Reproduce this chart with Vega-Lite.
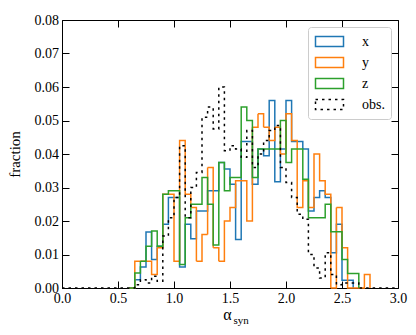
{
  "$schema": "https://vega.github.io/schema/vega-lite/v6.json",
  "width": 336,
  "height": 268,
  "autosize": {"type": "none"},
  "padding": {"left": 62, "top": 20, "right": 18, "bottom": 47},
  "config": {
    "font": "Liberation Serif",
    "view": {"stroke": "black", "strokeWidth": 1},
    "axis": {"domain": false, "grid": false, "labelFlush": false, "labelOverlap": false, "tickColor": "black", "tickSize": -7, "tickWidth": 1, "labelPadding": 10.5, "labelFont": "Liberation Serif", "labelFontSize": 14, "labelColor": "black", "titleFont": "Liberation Serif", "titleFontWeight": "normal", "titleColor": "black"},
    "legend": {"orient": "top-right", "offset": 7, "strokeColor": "#cccccc", "fillColor": "rgba(255,255,255,0.8)", "cornerRadius": 3, "padding": 6, "labelFont": "Liberation Serif", "labelFontSize": 14, "labelColor": "black", "symbolType": "M-1.867,-0.667H1.867V0.667H-1.867Z", "symbolSize": 225, "symbolOffset": 7, "symbolFillColor": "transparent", "rowPadding": 4, "labelOffset": 24}
  },
  "datasets": {
    "hist": [
      {"series":"x","alpha":0.60,"fraction":0},
      {"series":"x","alpha":0.65,"fraction":0.0025},
      {"series":"x","alpha":0.70,"fraction":0.0063},
      {"series":"x","alpha":0.75,"fraction":0.0167},
      {"series":"x","alpha":0.80,"fraction":0.0085},
      {"series":"x","alpha":0.85,"fraction":0.0125},
      {"series":"x","alpha":0.90,"fraction":0.019},
      {"series":"x","alpha":0.95,"fraction":0.027},
      {"series":"x","alpha":1.00,"fraction":0.027},
      {"series":"x","alpha":1.05,"fraction":0.0063},
      {"series":"x","alpha":1.10,"fraction":0.019},
      {"series":"x","alpha":1.15,"fraction":0.0147},
      {"series":"x","alpha":1.20,"fraction":0.023},
      {"series":"x","alpha":1.25,"fraction":0.023},
      {"series":"x","alpha":1.30,"fraction":0.029},
      {"series":"x","alpha":1.35,"fraction":0.029},
      {"series":"x","alpha":1.40,"fraction":0.0375},
      {"series":"x","alpha":1.45,"fraction":0.0355},
      {"series":"x","alpha":1.50,"fraction":0.031},
      {"series":"x","alpha":1.55,"fraction":0.0145},
      {"series":"x","alpha":1.60,"fraction":0.0437},
      {"series":"x","alpha":1.65,"fraction":0.0437},
      {"series":"x","alpha":1.70,"fraction":0.031},
      {"series":"x","alpha":1.75,"fraction":0.0415},
      {"series":"x","alpha":1.80,"fraction":0.0395},
      {"series":"x","alpha":1.85,"fraction":0.056},
      {"series":"x","alpha":1.90,"fraction":0.0317},
      {"series":"x","alpha":1.95,"fraction":0.0415},
      {"series":"x","alpha":2.00,"fraction":0.056},
      {"series":"x","alpha":2.05,"fraction":0.0437},
      {"series":"x","alpha":2.10,"fraction":0.0437},
      {"series":"x","alpha":2.15,"fraction":0.0415},
      {"series":"x","alpha":2.20,"fraction":0.023},
      {"series":"x","alpha":2.25,"fraction":0.027},
      {"series":"x","alpha":2.30,"fraction":0.029},
      {"series":"x","alpha":2.35,"fraction":0.027},
      {"series":"x","alpha":2.40,"fraction":0.0105},
      {"series":"x","alpha":2.45,"fraction":0.019},
      {"series":"x","alpha":2.50,"fraction":0.0023},
      {"series":"x","alpha":2.55,"fraction":0.0023},
      {"series":"x","alpha":2.60,"fraction":0},
      {"series":"y","alpha":0.60,"fraction":0},
      {"series":"y","alpha":0.65,"fraction":0.008},
      {"series":"y","alpha":0.70,"fraction":0.008},
      {"series":"y","alpha":0.75,"fraction":0.008},
      {"series":"y","alpha":0.80,"fraction":0.004},
      {"series":"y","alpha":0.85,"fraction":0.012},
      {"series":"y","alpha":0.90,"fraction":0.028},
      {"series":"y","alpha":0.95,"fraction":0.028},
      {"series":"y","alpha":1.00,"fraction":0.008},
      {"series":"y","alpha":1.05,"fraction":0.044},
      {"series":"y","alpha":1.10,"fraction":0.028},
      {"series":"y","alpha":1.15,"fraction":0.024},
      {"series":"y","alpha":1.20,"fraction":0.008},
      {"series":"y","alpha":1.25,"fraction":0.016},
      {"series":"y","alpha":1.30,"fraction":0.036},
      {"series":"y","alpha":1.35,"fraction":0.012},
      {"series":"y","alpha":1.40,"fraction":0.008},
      {"series":"y","alpha":1.45,"fraction":0.020},
      {"series":"y","alpha":1.50,"fraction":0.024},
      {"series":"y","alpha":1.55,"fraction":0.032},
      {"series":"y","alpha":1.60,"fraction":0.032},
      {"series":"y","alpha":1.65,"fraction":0.020},
      {"series":"y","alpha":1.70,"fraction":0.048},
      {"series":"y","alpha":1.75,"fraction":0.052},
      {"series":"y","alpha":1.80,"fraction":0.048},
      {"series":"y","alpha":1.85,"fraction":0.044},
      {"series":"y","alpha":1.90,"fraction":0.048},
      {"series":"y","alpha":1.95,"fraction":0.040},
      {"series":"y","alpha":2.00,"fraction":0.052},
      {"series":"y","alpha":2.05,"fraction":0.044},
      {"series":"y","alpha":2.10,"fraction":0.024},
      {"series":"y","alpha":2.15,"fraction":0.032},
      {"series":"y","alpha":2.20,"fraction":0.024},
      {"series":"y","alpha":2.25,"fraction":0.040},
      {"series":"y","alpha":2.30,"fraction":0.032},
      {"series":"y","alpha":2.35,"fraction":0.028},
      {"series":"y","alpha":2.40,"fraction":0},
      {"series":"y","alpha":2.45,"fraction":0.024},
      {"series":"y","alpha":2.50,"fraction":0.012},
      {"series":"y","alpha":2.55,"fraction":0},
      {"series":"y","alpha":2.60,"fraction":0},
      {"series":"y","alpha":2.65,"fraction":0},
      {"series":"y","alpha":2.70,"fraction":0.004},
      {"series":"y","alpha":2.75,"fraction":0},
      {"series":"z","alpha":0.60,"fraction":0},
      {"series":"z","alpha":0.65,"fraction":0.0045},
      {"series":"z","alpha":0.70,"fraction":0.008},
      {"series":"z","alpha":0.75,"fraction":0.0125},
      {"series":"z","alpha":0.80,"fraction":0.017},
      {"series":"z","alpha":0.85,"fraction":0.0125},
      {"series":"z","alpha":0.90,"fraction":0.028},
      {"series":"z","alpha":0.95,"fraction":0.029},
      {"series":"z","alpha":1.00,"fraction":0.029},
      {"series":"z","alpha":1.05,"fraction":0.007},
      {"series":"z","alpha":1.10,"fraction":0.021},
      {"series":"z","alpha":1.15,"fraction":0.025},
      {"series":"z","alpha":1.20,"fraction":0.025},
      {"series":"z","alpha":1.25,"fraction":0.033},
      {"series":"z","alpha":1.30,"fraction":0.025},
      {"series":"z","alpha":1.35,"fraction":0.0128},
      {"series":"z","alpha":1.40,"fraction":0.0375},
      {"series":"z","alpha":1.45,"fraction":0.029},
      {"series":"z","alpha":1.50,"fraction":0.033},
      {"series":"z","alpha":1.55,"fraction":0.033},
      {"series":"z","alpha":1.60,"fraction":0.054},
      {"series":"z","alpha":1.65,"fraction":0.050},
      {"series":"z","alpha":1.70,"fraction":0.033},
      {"series":"z","alpha":1.75,"fraction":0.0415},
      {"series":"z","alpha":1.80,"fraction":0.0415},
      {"series":"z","alpha":1.85,"fraction":0.0415},
      {"series":"z","alpha":1.90,"fraction":0.0415},
      {"series":"z","alpha":1.95,"fraction":0.050},
      {"series":"z","alpha":2.00,"fraction":0.0375},
      {"series":"z","alpha":2.05,"fraction":0.0415},
      {"series":"z","alpha":2.10,"fraction":0.0415},
      {"series":"z","alpha":2.15,"fraction":0.0325},
      {"series":"z","alpha":2.20,"fraction":0.021},
      {"series":"z","alpha":2.25,"fraction":0.021},
      {"series":"z","alpha":2.30,"fraction":0.021},
      {"series":"z","alpha":2.35,"fraction":0.025},
      {"series":"z","alpha":2.40,"fraction":0.0168},
      {"series":"z","alpha":2.45,"fraction":0.0168},
      {"series":"z","alpha":2.50,"fraction":0.0085},
      {"series":"z","alpha":2.55,"fraction":0.0043},
      {"series":"z","alpha":2.60,"fraction":0.0043},
      {"series":"z","alpha":2.65,"fraction":0},
      {"series":"obs.","alpha":0.00,"fraction":0},
      {"series":"obs.","alpha":0.65,"fraction":0.001},
      {"series":"obs.","alpha":0.70,"fraction":0.0025},
      {"series":"obs.","alpha":0.75,"fraction":0.0015},
      {"series":"obs.","alpha":0.80,"fraction":0.0035},
      {"series":"obs.","alpha":0.85,"fraction":0.002},
      {"series":"obs.","alpha":0.90,"fraction":0.0155},
      {"series":"obs.","alpha":0.95,"fraction":0.021},
      {"series":"obs.","alpha":1.00,"fraction":0.027},
      {"series":"obs.","alpha":1.05,"fraction":0.0425},
      {"series":"obs.","alpha":1.10,"fraction":0.021},
      {"series":"obs.","alpha":1.15,"fraction":0.030},
      {"series":"obs.","alpha":1.20,"fraction":0.0345},
      {"series":"obs.","alpha":1.25,"fraction":0.051},
      {"series":"obs.","alpha":1.30,"fraction":0.054},
      {"series":"obs.","alpha":1.35,"fraction":0.0475},
      {"series":"obs.","alpha":1.40,"fraction":0.060},
      {"series":"obs.","alpha":1.45,"fraction":0.041},
      {"series":"obs.","alpha":1.50,"fraction":0.0425},
      {"series":"obs.","alpha":1.55,"fraction":0.0415},
      {"series":"obs.","alpha":1.60,"fraction":0.039},
      {"series":"obs.","alpha":1.65,"fraction":0.047},
      {"series":"obs.","alpha":1.70,"fraction":0.036},
      {"series":"obs.","alpha":1.75,"fraction":0.040},
      {"series":"obs.","alpha":1.80,"fraction":0.044},
      {"series":"obs.","alpha":1.85,"fraction":0.047},
      {"series":"obs.","alpha":1.90,"fraction":0.0485},
      {"series":"obs.","alpha":1.95,"fraction":0.036},
      {"series":"obs.","alpha":2.00,"fraction":0.0315},
      {"series":"obs.","alpha":2.05,"fraction":0.027},
      {"series":"obs.","alpha":2.10,"fraction":0.022},
      {"series":"obs.","alpha":2.15,"fraction":0.0205},
      {"series":"obs.","alpha":2.20,"fraction":0.010},
      {"series":"obs.","alpha":2.25,"fraction":0.006},
      {"series":"obs.","alpha":2.30,"fraction":0.003},
      {"series":"obs.","alpha":2.35,"fraction":0.0105},
      {"series":"obs.","alpha":2.40,"fraction":0.004},
      {"series":"obs.","alpha":2.45,"fraction":0.001},
      {"series":"obs.","alpha":2.50,"fraction":0.0015},
      {"series":"obs.","alpha":2.55,"fraction":0.0015},
      {"series":"obs.","alpha":2.60,"fraction":0.0015},
      {"series":"obs.","alpha":2.65,"fraction":0},
      {"series":"obs.","alpha":3.00,"fraction":0}
    ]
  },
  "layer": [
    {
      "data": {"name": "hist"},
      "mark": {"type": "line", "interpolate": "step-after", "clip": false},
      "encoding": {
        "x": {"field": "alpha", "type": "quantitative", "scale": {"domain": [0, 3], "nice": false, "zero": false},
              "axis": {"orient": "bottom", "values": [0, 0.5, 1, 1.5, 2, 2.5, 3], "format": ".1f", "title": "α", "titleFontSize": 16, "titleX": 165, "titleY": 31, "titleAlign": "center", "titleBaseline": "alphabetic"}},
        "y": {"field": "fraction", "type": "quantitative", "scale": {"domain": [0, 0.08], "nice": false, "zero": true},
              "axis": {"orient": "left", "values": [0, 0.01, 0.02, 0.03, 0.04, 0.05, 0.06, 0.07, 0.08], "format": ".2f", "title": "fraction", "titleFontSize": 15, "titleAngle": -90, "titleX": -43, "titleY": 134, "titleAlign": "center", "titleBaseline": "alphabetic"}},
        "color": {"field": "series", "type": "nominal", "scale": {"domain": ["x", "y", "z", "obs."], "range": ["#1f77b4", "#ff7f0e", "#2ca02c", "#000000"]}, "legend": {"title": null}},
        "strokeDash": {"field": "series", "type": "nominal", "scale": {"domain": ["x", "y", "z", "obs."], "range": [[1, 0], [1, 0], [1, 0], [2.5, 4]]}, "legend": {"title": null}},
        "strokeWidth": {"field": "series", "type": "ordinal", "scale": {"domain": ["x", "y", "z", "obs."], "range": [1.5, 1.5, 1.5, 2.5]}, "legend": {"title": null}}
      }
    },
    {
      "data": {"name": "hist"},
      "mark": {"type": "point", "opacity": 0},
      "encoding": {
        "x": {"field": "alpha", "type": "quantitative", "axis": {"orient": "top", "values": [0, 0.5, 1, 1.5, 2, 2.5, 3], "labels": false, "title": null}},
        "y": {"field": "fraction", "type": "quantitative", "axis": {"orient": "right", "values": [0, 0.01, 0.02, 0.03, 0.04, 0.05, 0.06, 0.07, 0.08], "labels": false, "title": null}}
      }
    },
    {
      "data": {"name": "hist"},
      "mark": {"type": "point", "opacity": 0},
      "encoding": {
        "x": {"field": "alpha", "type": "quantitative", "axis": {"orient": "bottom", "labels": false, "ticks": false, "title": "syn", "titleFontSize": 11, "titleX": 171, "titleY": 35, "titleAlign": "left", "titleBaseline": "alphabetic"}},
        "y": {"field": "fraction", "type": "quantitative", "axis": null}
      }
    }
  ],
  "resolve": {"axis": {"x": "independent", "y": "independent"}}
}
